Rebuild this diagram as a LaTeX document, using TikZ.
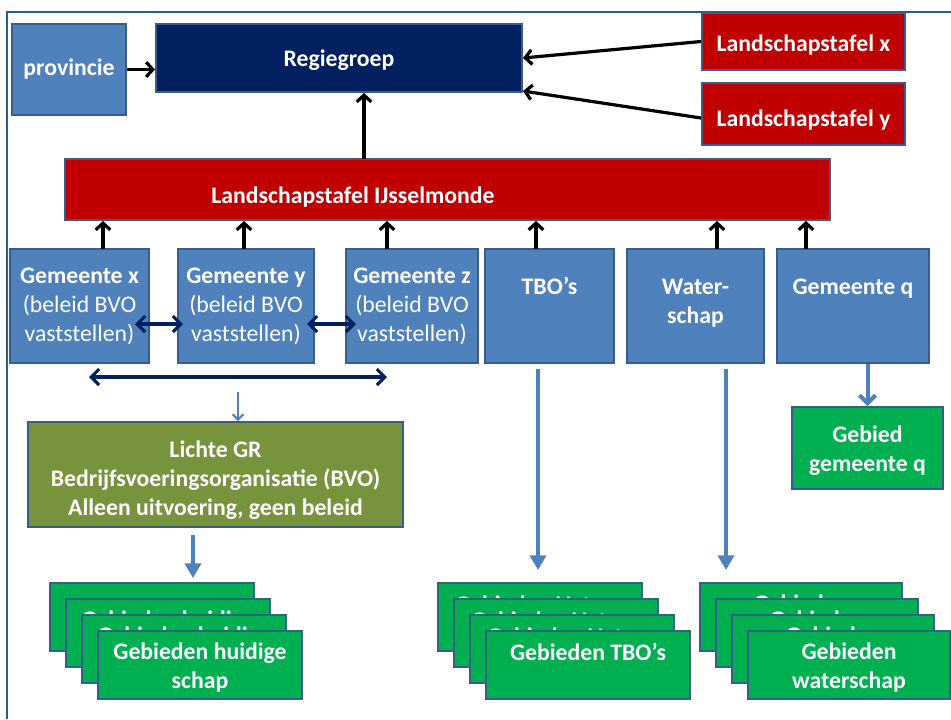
\documentclass[tikz,border=0pt]{standalone}
\usepackage{fontspec}
\setmainfont{Carlito}
\usetikzlibrary{arrows.meta}
\definecolor{bluef}{RGB}{79,129,189}
\definecolor{bord}{RGB}{56,93,138}
\definecolor{navy}{RGB}{0,32,96}
\definecolor{redf}{RGB}{192,0,0}
\definecolor{grn}{RGB}{0,176,80}
\definecolor{olive}{RGB}{119,147,60}
\definecolor{framec}{RGB}{31,96,140}
\newcommand{\tallr}[1]{\rule{0pt}{#1}}
\tikzset{
  txt/.style={text=white, font=\fontsize{17.8}{21.75}\selectfont\bfseries, align=center},
  box/.style={txt, draw=bord, line width=1.5pt, inner sep=0pt},
  rect/.style n args={4}{minimum width={(#3-#1)*0.75pt}, minimum height={(#4-#2)*0.75pt}, at={({(#1+#3)/2},{(#2+#4)/2})}},
  bluebox/.style={box, fill=bluef},
  navybox/.style={box, fill=navy},
  redbox/.style={box, fill=redf},
  greenbox/.style={box, fill=grn},
  olivebox/.style={box, fill=olive},
  blk/.style={draw=black, line width=2.4pt, -{Straight Barb[length=5pt,width=11pt]}},
  dbl/.style={draw=navy, line width=2.3pt, {Straight Barb[length=6pt,width=12pt]}-{Straight Barb[length=6pt,width=12pt]}},
  bluetri/.style={draw=bluef, line width=3pt, -{Triangle[length=11pt,width=12pt]}},
  bluebarb/.style={draw=bluef, line width=3pt, -{Straight Barb[length=6pt,width=12pt]}},
  thinbarb/.style={draw=bluef, line width=1.5pt, -{Straight Barb[length=4pt,width=8pt]}},
}
\begin{document}
\begin{tikzpicture}[x=0.75pt,y=-0.75pt]
\useasboundingbox (0,0) rectangle (951,719);
% frame
\draw[framec, line width=1.5pt] (7,719) -- (7,12) -- (951,12);
% top row
\node[bluebox, rect={12}{24}{126}{115}] (prov) {provincie};
\node[navybox, rect={156}{24}{522}{92}] (reg) {\tallr{15.5pt}Regiegroep};
\node[redbox, rect={702}{13}{905}{70}] (lx) {\tallr{18.5pt}Landschapstafel x};
\node[redbox, rect={702}{83}{905}{145}] (ly) {\tallr{21.5pt}Landschapstafel y};
\node[redbox, rect={65}{159}{830}{220},
  label={[txt, anchor=center, xshift=-70.9pt, yshift=-5.5pt]center:Landschapstafel IJsselmonde}] (ij) {};
% second row
\node[bluebox, rect={10}{249}{149}{363}] (gx) {Gemeente x\\\mdseries(beleid BVO\\\mdseries vaststellen)};
\node[bluebox, rect={178}{249}{314}{363}] (gy) {Gemeente y\\\mdseries(beleid BVO\\\mdseries vaststellen)};
\node[bluebox, rect={346}{249}{478}{363}] (gz) {Gemeente z\\\mdseries(beleid BVO\\\mdseries vaststellen)};
\node[bluebox, rect={485}{249}{614}{363}] (tbo) {\tallr{26pt}TBO’s\\\mbox{}\\\mbox{}};
\node[bluebox, rect={627}{249}{764}{363}] (wat) {\tallr{26pt}Water-\\schap\\\mbox{}};
\node[bluebox, rect={777}{249}{929}{363}] (gq) {\tallr{26pt}Gemeente q\\\mbox{}\\\mbox{}};
% middle
\node[greenbox, rect={792}{407}{943}{489}] (gebq) {\tallr{17pt}Gebied\\gemeente q};
\node[olivebox, rect={28}{422}{403}{527}] (bvo) {\tallr{21.5pt}Lichte GR\\Bedrijfsvoeringsorganisatie (BVO)\\Alleen uitvoering, geen beleid};
% card stacks
\node[greenbox, rect={50}{583}{254}{651}] (l1) {};
\node[greenbox, rect={66}{599}{270}{667}] (l2) {\tallr{17pt}Gebieden huidige\\schap};
\node[greenbox, rect={82}{615}{286}{683}] (l3) {\tallr{17pt}Gebieden huidige\\schap};
\node[greenbox, rect={98}{631}{302}{699}] (l4) {\tallr{17pt}Gebieden huidige\\schap};
\node[greenbox, rect={438}{583}{642}{651}] (t1) {\tallr{15pt}Gebieden Natuur\\\mbox{}};
\node[greenbox, rect={454}{599}{658}{667}] (t2) {\tallr{15pt}Gebieden Natuur\\\mbox{}};
\node[greenbox, rect={470}{615}{674}{683}] (t3) {\tallr{15pt}Gebieden Natuur\\\mbox{}};
\node[greenbox, rect={486}{631}{690}{699}] (t4) {\tallr{15pt}Gebieden TBO’s\\\mbox{}};
\node[greenbox, rect={700}{583}{902}{651}] (w1) {\tallr{17pt}Gebieden\\waterschap};
\node[greenbox, rect={716}{599}{918}{667}] (w2) {\tallr{17pt}Gebieden\\waterschap};
\node[greenbox, rect={732}{615}{934}{683}] (w3) {\tallr{17pt}Gebieden\\waterschap};
\node[greenbox, rect={748}{631}{950}{699}] (w4) {\tallr{17pt}Gebieden\\waterschap};
% connectors top
\draw[blk] (prov.east) -- (prov.east -| reg.west);
\draw[blk] (lx.west) -- (reg.east);
\draw[blk] ([yshift=-3pt]ly.west) -- ([yshift=1.5pt]reg.south east);
\coordinate (ijt) at (364,159);
\draw[blk] (ijt) -- (ijt |- reg.south);
\foreach \xx/\nm in {103/gx,244/gy,387/gz,536/tbo,717/wat,806/gq}{
  \coordinate (a\nm) at (\xx,249);
  \draw[blk] (a\nm) -- (a\nm |- ij.south);
}
% double arrows
\coordinate (d1a) at (135,324); \coordinate (d1b) at (183,324);
\draw[dbl] (d1a) -- (d1b);
\coordinate (d2a) at (307,324); \coordinate (d2b) at (356,324);
\draw[dbl] (d2a) -- (d2b);
\coordinate (d3a) at (89,377); \coordinate (d3b) at (387,377);
\draw[dbl] (d3a) -- (d3b);
% thin arrow into BVO
\coordinate (thin) at (238,392);
\draw[thinbarb] (thin) -- (thin |- bvo.north);
% gemeente q arrow
\draw[bluebarb] (gebq.north |- gq.south) -- (gebq.north);
% down arrows to stacks
\coordinate (sl) at (193,535); \coordinate (slt) at (193,578);
\draw[bluetri] (sl) -- (slt);
\coordinate (st) at (538,369); \coordinate (stt) at (538,570);
\draw[bluetri] (st) -- (stt);
\coordinate (sw) at (726,369); \coordinate (swt) at (726,570);
\draw[bluetri] (sw) -- (swt);
\end{tikzpicture}
\end{document}
